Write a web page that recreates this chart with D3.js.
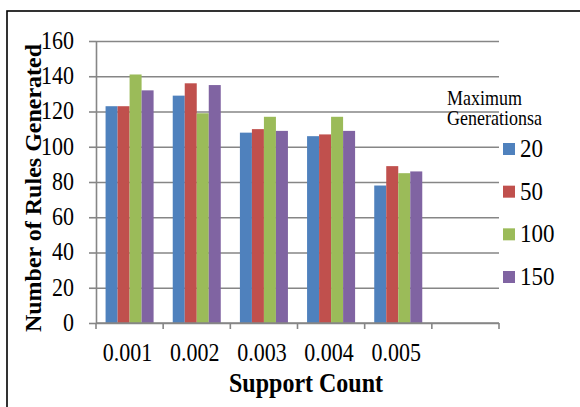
<!DOCTYPE html>
<html>
<head>
<meta charset="utf-8">
<script src="https://cdn.jsdelivr.net/npm/d3@7"></script>
<style>
  html, body { margin: 0; padding: 0; background: #fff; }
  svg { display: block; }
  text { font-family: "Liberation Serif", "Times New Roman", serif; fill: #000; }
</style>
</head>
<body>
<svg id="chart" width="580" height="407"></svg>
<script>
// Support count categories (the chart leaves one empty slot on the right)
const categories = ["0.001", "0.002", "0.003", "0.004", "0.005"];
const axisSlots = ["0.001", "0.002", "0.003", "0.004", "0.005", ""];

// Maximum generations series
const seriesNames = ["20", "50", "100", "150"];
const gen20  = [123, 129, 108, 106, 78];
const gen50  = [123, 136, 110, 107, 89];
const gen100 = [141, 119, 117, 117, 85];
const gen150 = [132, 135, 109, 109, 86];
const seriesValues = [gen20, gen50, gen100, gen150];
const seriesColors = ["#4F81BD", "#C0504D", "#9BBB59", "#8064A2"];

const yTicks = [0, 20, 40, 60, 80, 100, 120, 140, 160];

// Text is drawn slightly taller than wide
const stretch = 1.12;

const svg = d3.select("#chart");

function label(parent, x, y, str, size, opts = {}) {
  return parent.append("text")
    .attr("transform", `translate(${x},${y}) ${opts.rotate ? "rotate(-90)" : `scale(1,${stretch})`}`)
    .attr("text-anchor", opts.anchor || "start")
    .attr("font-size", size)
    .attr("font-weight", opts.bold ? "bold" : null)
    .text(str);
}

// Outer frame
svg.append("rect")
  .attr("x", 7).attr("y", 11)
  .attr("width", 600).attr("height", 420)
  .attr("fill", "none").attr("stroke", "#000").attr("stroke-width", 1.6);

const plotLeft = 96, plotRight = 499, plotTop = 41, plotBottom = 323;

const x = d3.scaleBand().domain(axisSlots).range([plotLeft, plotRight]).paddingInner(0).paddingOuter(0);
const groupWidth = x.bandwidth() * 0.715;
const xInner = d3.scaleBand().domain(seriesNames).range([0, groupWidth]);
const y = d3.scaleLinear().domain([0, 160]).range([plotBottom, plotTop]);

const gridColor = "#868686";

// Horizontal gridlines
svg.append("g")
  .attr("transform", `translate(${plotLeft},0)`)
  .call(d3.axisLeft(y).tickValues(yTicks).tickSize(-(plotRight - plotLeft)).tickFormat(""))
  .call(g => g.select(".domain").remove())
  .call(g => g.selectAll(".tick line").attr("stroke", gridColor).attr("stroke-width", 1.6));

// Y axis with outward ticks and labels
svg.append("g")
  .attr("transform", `translate(${plotLeft},0)`)
  .call(d3.axisLeft(y).tickValues(yTicks).tickSize(7).tickSizeOuter(0).tickPadding(15))
  .call(g => g.select(".domain").attr("stroke", gridColor).attr("stroke-width", 1.6))
  .call(g => g.selectAll(".tick line").attr("stroke", gridColor).attr("stroke-width", 1.6))
  .call(g => g.selectAll(".tick text")
    .attr("font-family", "Liberation Serif, serif")
    .attr("font-size", 22).attr("fill", "#000")
    .attr("dy", "0.3em")
    .attr("transform", `scale(1,${stretch})`));

// Bars
const groups = svg.append("g").selectAll("g")
  .data(categories)
  .join("g")
  .attr("transform", d => `translate(${x(d) + (x.bandwidth() - groupWidth) / 2},0)`);

groups.selectAll("rect")
  .data((d, i) => seriesNames.map((s, j) => ({ s, j, v: seriesValues[j][i] })))
  .join("rect")
  .attr("x", d => xInner(d.s))
  .attr("width", xInner.bandwidth())
  .attr("y", d => y(d.v))
  .attr("height", d => y(0) - y(d.v))
  .attr("fill", d => seriesColors[d.j]);

// X axis with ticks between categories
const xAxis = svg.append("g").attr("transform", `translate(0,${plotBottom})`);
xAxis.append("line")
  .attr("x1", plotLeft).attr("x2", plotRight).attr("y1", 0).attr("y2", 0)
  .attr("stroke", gridColor).attr("stroke-width", 1.6);
const boundaries = axisSlots.map(d => x(d)).concat([plotRight]);
xAxis.selectAll("line.tk")
  .data(boundaries)
  .join("line")
  .attr("class", "tk")
  .attr("x1", d => d).attr("x2", d => d)
  .attr("y1", 0).attr("y2", 6)
  .attr("stroke", gridColor).attr("stroke-width", 1.6);
categories.forEach(c => label(xAxis, x(c) + x.bandwidth() / 2 - 2, 38, c, 22, { anchor: "middle" }));

// Axis titles
label(svg, 306, 392, "Support Count", 24, { anchor: "middle", bold: true });
label(svg, 41, 188, "Number of Rules Generated", 24, { anchor: "middle", bold: true, rotate: true });

// Legend
const legend = svg.append("g");
label(legend, 447, 105, "Maximum", 18);
label(legend, 447, 125, "Generationsa", 18);

const ly = d3.scalePoint().domain(seriesNames).range([149, 277]);
const items = legend.selectAll("g.item")
  .data(seriesNames)
  .join("g")
  .attr("class", "item")
  .attr("transform", d => `translate(503,${ly(d)})`);
items.append("rect")
  .attr("x", 0).attr("y", -6).attr("width", 12).attr("height", 12)
  .attr("fill", (d, i) => seriesColors[i]);
items.each(function (d) { label(d3.select(this), 17, 8, d, 23); });
</script>
</body>
</html>
